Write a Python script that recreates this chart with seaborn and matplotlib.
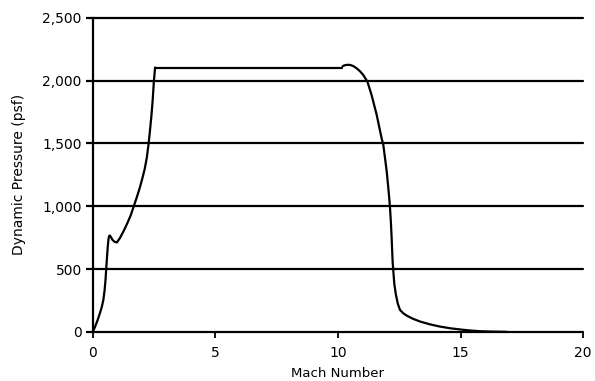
import matplotlib
matplotlib.use("Agg")
import matplotlib.pyplot as plt
import seaborn as sns
import pandas as pd
from matplotlib.ticker import FuncFormatter

# Ascent (launch to max-q plateau)
ascent_mach = [0.0, 0.08, 0.2, 0.30, 0.37, 0.43, 0.48, 0.52, 0.55, 0.58, 0.61, 0.64, 0.67,
               0.70, 0.74, 0.80, 0.88, 0.98, 1.10, 1.25, 1.40, 1.55, 1.67, 1.80, 1.92,
               2.02, 2.12, 2.20, 2.27, 2.33, 2.39, 2.44, 2.49, 2.52, 2.54]
ascent_q = [0, 35, 96, 155, 201, 255, 330, 420, 510, 600, 680, 740, 765,
            766, 755, 733, 718, 712, 745, 800, 862, 930, 1000, 1075, 1150,
            1222, 1300, 1385, 1489, 1600, 1720, 1840, 1993, 2060, 2105]

# Constant dynamic pressure plateau
plateau_mach = [2.54, 10.15]
plateau_q = [2105, 2105]

# Descent / pull-up
descent_mach = [10.19, 10.26, 10.36, 10.49, 10.62, 10.76, 10.90, 11.03, 11.20, 11.37,
                11.58, 11.78, 11.85, 11.99, 12.08, 12.12, 12.16, 12.19, 12.23, 12.26,
                12.30, 12.36, 12.44, 12.53, 12.65, 12.80, 13.05, 13.35, 13.75, 14.16,
                14.60, 15.12, 15.45, 15.80, 16.30, 16.89]
descent_q = [2115, 2122, 2126, 2126, 2117, 2099, 2075, 2046, 1993, 1887,
             1728, 1542, 1489, 1276, 1091, 998, 870, 746, 560, 480,
             380, 300, 225, 175, 150, 130, 105, 82, 60, 42,
             28, 16, 10, 5, 2, 0]

x_ticks = [0, 5, 10, 15, 20]
y_ticks = [0, 500, 1000, 1500, 2000, 2500]

sns.set_theme(style="white")
plt.rcParams['font.family'] = ['DejaVu Sans']

fig = plt.figure(figsize=(5.95, 3.81), dpi=100)
ax = fig.add_axes([0.156, 0.129, 0.824, 0.824])

for m, q in [(ascent_mach, ascent_q), (plateau_mach, plateau_q), (descent_mach, descent_q)]:
    df = pd.DataFrame({"Mach Number": m, "q": q})
    sns.lineplot(data=df, x="Mach Number", y="q", ax=ax, color="black",
                 linewidth=1.6, sort=False, estimator=None)

ax.set_xlim(0, 20)
ax.set_ylim(0, 2500)
ax.set_xticks(x_ticks)
ax.set_yticks(y_ticks)
ax.yaxis.set_major_formatter(FuncFormatter(lambda v, p: f"{int(v):,}"))

for yv in y_ticks:
    ax.axhline(yv, color="black", linewidth=1.6, zorder=0, clip_on=False)

for s in ["top", "right", "bottom"]:
    ax.spines[s].set_visible(False)
ax.spines["left"].set_color("black")
ax.spines["left"].set_linewidth(1.6)

ax.tick_params(axis="y", direction="out", length=5, width=1.6, color="black",
               labelsize=10, pad=3, left=True, labelcolor="black")
ax.tick_params(axis="x", direction="out", length=4, width=1.3, color="black",
               labelsize=10, pad=6, bottom=True, labelcolor="black")

ax.set_xlabel("Mach Number", fontsize=9.5, labelpad=5, color="black")
ax.set_ylabel("Dynamic Pressure (psf)", fontsize=10, labelpad=12, color="black")

fig.savefig("out.png", dpi=100)
